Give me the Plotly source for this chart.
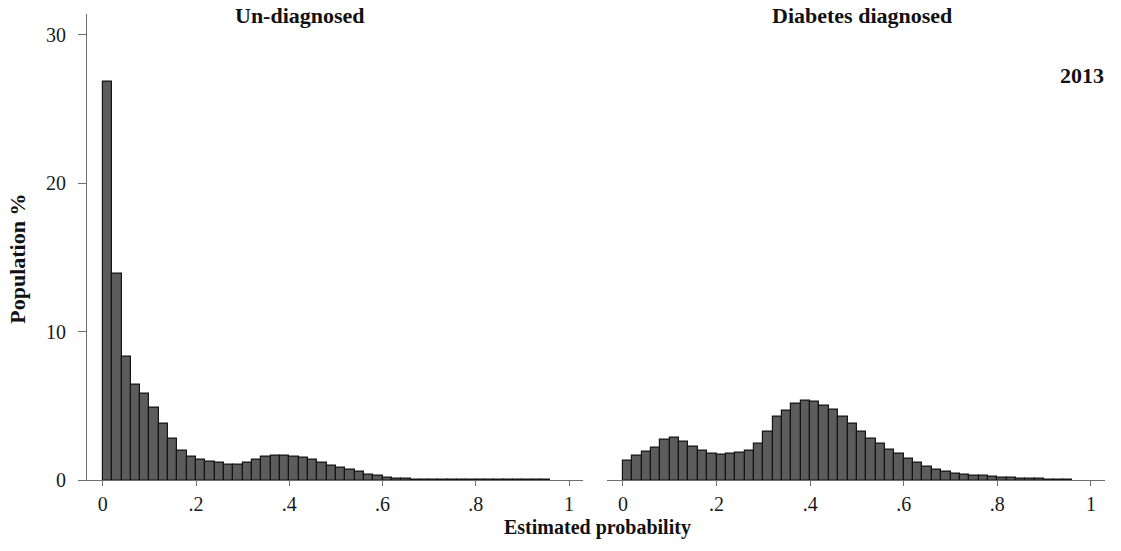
import plotly.graph_objects as go

# Bin midpoints of the estimated probability (bin width 0.02, 0 to 0.96)
bin_mid = [0.01, 0.03, 0.05, 0.07, 0.09, 0.11, 0.13, 0.15, 0.17, 0.19,
           0.21, 0.23, 0.25, 0.27, 0.29, 0.31, 0.33, 0.35, 0.37, 0.39,
           0.41, 0.43, 0.45, 0.47, 0.49, 0.51, 0.53, 0.55, 0.57, 0.59,
           0.61, 0.63, 0.65, 0.67, 0.69, 0.71, 0.73, 0.75, 0.77, 0.79,
           0.81, 0.83, 0.85, 0.87, 0.89, 0.91, 0.93, 0.95]
bin_width = 0.02

# Population % per bin, 2013
undiagnosed = [26.8, 13.9, 8.3, 6.4, 5.8, 4.9, 3.8, 2.8, 2.0, 1.6,
               1.4, 1.25, 1.15, 1.05, 1.05, 1.15, 1.35, 1.6, 1.65, 1.65,
               1.6, 1.5, 1.35, 1.2, 1.0, 0.85, 0.7, 0.55, 0.4, 0.3,
               0.2, 0.12, 0.08, 0.06, 0.05, 0.05, 0.04, 0.04, 0.04, 0.04,
               0.03, 0.03, 0.03, 0.03, 0.03, 0.03, 0.03, 0.03]
diagnosed = [1.33, 1.66, 1.9, 2.2, 2.73, 2.87, 2.56, 2.27, 1.99, 1.79,
             1.72, 1.77, 1.88, 1.99, 2.45, 3.26, 4.25, 4.69, 5.13, 5.35,
             5.29, 5.02, 4.76, 4.25, 3.81, 3.26, 2.82, 2.43, 2.06, 1.77,
             1.46, 1.17, 0.89, 0.7, 0.55, 0.45, 0.38, 0.32, 0.27, 0.22,
             0.18, 0.15, 0.12, 0.1, 0.08, 0.06, 0.05, 0.04]

x_ticks = [0, 0.2, 0.4, 0.6, 0.8, 1]
x_tick_text = ["0", ".2", ".4", ".6", ".8", "1"]
y_ticks = [0, 10, 20, 30]
y_tick_text = ["0", "10", "20", "30"]

W, H = 1121, 551
FONT = "Liberation Serif"
AXIS_COLOR = "#6e6e6e"
TICK_FONT = dict(family=FONT, size=20, color="#1a1a1a")


def px_x(p):
    return p / W


def px_y(p):
    return 1 - p / H


fig = go.Figure()
bar_style = dict(marker=dict(color="#5c5c5c", line=dict(color="#141414", width=1.2)),
                 width=bin_width, showlegend=False, hoverinfo="x+y")
fig.add_trace(go.Bar(x=bin_mid, y=undiagnosed, xaxis="x", yaxis="y", **bar_style))
fig.add_trace(go.Bar(x=bin_mid, y=diagnosed, xaxis="x2", yaxis="y2", **bar_style))

y_dom = [px_y(490), px_y(14)]
y_range = [0, 31.4]
x_common = dict(range=[-0.034, 1.03], tickvals=x_ticks, ticktext=x_tick_text,
                showline=True, linecolor=AXIS_COLOR, linewidth=1,
                ticks="outside", ticklen=5, tickcolor=AXIS_COLOR,
                ticklabelstandoff=1,
                showgrid=False, zeroline=False, tickfont=TICK_FONT)

fig.update_layout(
    width=W, height=H, autosize=False,
    margin=dict(l=0, r=0, t=0, b=0, pad=0),
    paper_bgcolor="white", plot_bgcolor="white",
    bargap=0,
    xaxis=dict(domain=[px_x(87), px_x(583)], anchor="y", **x_common),
    xaxis2=dict(domain=[px_x(607), px_x(1105)], anchor="y2", **x_common),
    yaxis=dict(domain=y_dom, range=y_range, anchor="x",
               tickvals=y_ticks, ticktext=y_tick_text,
               showline=True, linecolor=AXIS_COLOR, linewidth=1,
               ticks="outside", ticklen=8, tickcolor=AXIS_COLOR,
               ticklabelstandoff=8,
               showgrid=False, zeroline=False, tickfont=TICK_FONT),
    yaxis2=dict(domain=y_dom, range=y_range, anchor="x2",
                showline=False, showticklabels=False, ticks="",
                showgrid=False, zeroline=False),
)

title_font = dict(family=FONT, size=22, color="#111")
annotations = [
    dict(text="<b>Un-diagnosed</b>", x=px_x(300), y=px_y(16)),
    dict(text="<b>Diabetes diagnosed</b>", x=px_x(862), y=px_y(16)),
]
for a in annotations:
    fig.add_annotation(xref="paper", yref="paper", showarrow=False,
                       xanchor="center", yanchor="middle", font=title_font, **a)
fig.add_annotation(text="<b>Estimated probability</b>", xref="paper", yref="paper",
                   x=px_x(597), y=0, xanchor="center", yanchor="bottom",
                   borderpad=0, showarrow=False,
                   font=dict(family=FONT, size=20, color="#111"))
fig.add_annotation(text="<b>2013</b>", xref="paper", yref="paper",
                   x=px_x(1106), y=px_y(77), xanchor="right", yanchor="middle",
                   showarrow=False, font=title_font)
fig.add_annotation(text="<b>Population %</b>", xref="paper", yref="paper",
                   x=px_x(18), y=px_y(264), textangle=-90,
                   xanchor="center", yanchor="middle",
                   showarrow=False, font=title_font)

fig.write_html("out.html", config={"responsive": False, "displayModeBar": False},
               default_width=f"{W}px", default_height=f"{H}px")
